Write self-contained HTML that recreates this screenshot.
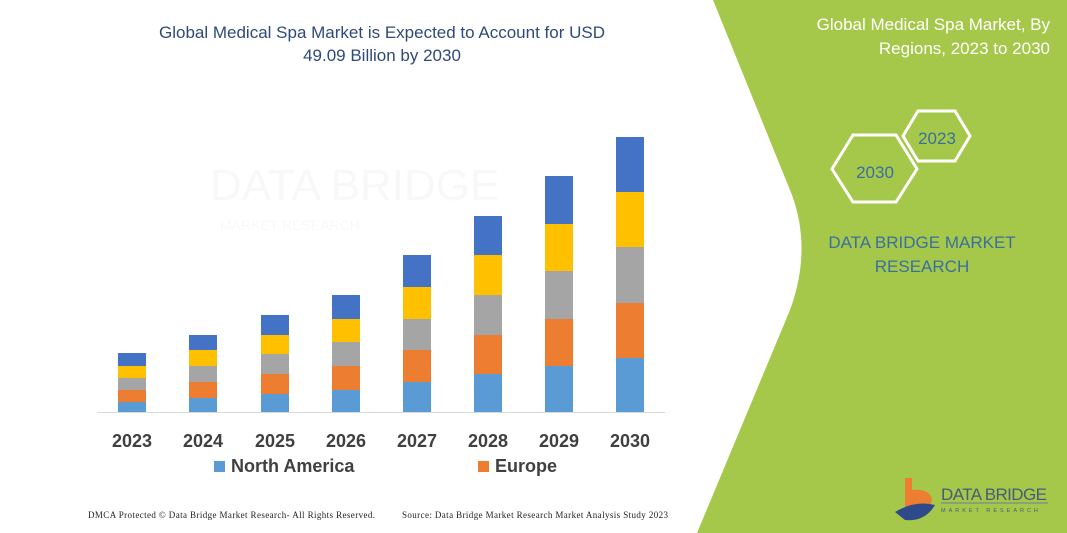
<!DOCTYPE html>
<html><head><meta charset="utf-8"><style>
body{margin:0;width:1067px;height:533px;overflow:hidden;background:#fff;font-family:"Liberation Sans",sans-serif;position:relative}
</style></head><body>
<svg width="1067" height="533" style="position:absolute;left:0;top:0">
<path d="M713,0 L1067,0 L1067,533 L697,533 L790,310 Q812,250 792,195 Z" fill="#a5c84a"/>
<text x="382" y="38" text-anchor="middle" font-size="17" fill="#2f4a7a">Global Medical Spa Market is Expected to Account for USD</text>
<text x="382" y="61" text-anchor="middle" font-size="17" fill="#2f4a7a">49.09 Billion by 2030</text>
<text x="1050" y="30" text-anchor="end" font-size="17" fill="#fff">Global Medical Spa Market, By</text>
<text x="1050" y="54" text-anchor="end" font-size="17" fill="#fff">Regions, 2023 to 2030</text>
<polygon points="832,169 853,135 896,135 917,169 896,202 853,202" fill="none" stroke="#fff" stroke-width="3"/>
<polygon points="903,136 918,111 955,111 970,136 955,161 918,161" fill="none" stroke="#fff" stroke-width="3"/>
<text x="875" y="178" text-anchor="middle" font-size="17" fill="#3a6fa0">2030</text>
<text x="937" y="144" text-anchor="middle" font-size="17" fill="#3a6fa0">2023</text>
<text x="922" y="248" text-anchor="middle" font-size="17" fill="#3a6fa0">DATA BRIDGE MARKET</text>
<text x="922" y="272" text-anchor="middle" font-size="17" fill="#3a6fa0">RESEARCH</text>
<g opacity="0.05" fill="#888"><text x="210" y="200" font-size="44">DATA BRIDGE</text><text x="220" y="230" font-size="14">MARKET RESEARCH</text></g>
<line x1="97" y1="412.5" x2="665" y2="412.5" stroke="#d9d9d9"/>
<g id="bars"></g>
<g font-size="18" font-weight="bold" fill="#404040" text-anchor="middle">
<text x="132" y="447">2023</text><text x="203" y="447">2024</text><text x="275" y="447">2025</text><text x="346" y="447">2026</text><text x="417" y="447">2027</text><text x="488" y="447">2028</text><text x="559" y="447">2029</text><text x="630" y="447">2030</text>
</g>
<rect x="214" y="461" width="11" height="11" fill="#5b9bd5"/>
<text x="231" y="472" font-size="18" font-weight="bold" fill="#404040">North America</text>
<rect x="478" y="461" width="11" height="11" fill="#ed7d31"/>
<text x="495" y="472" font-size="18" font-weight="bold" fill="#404040">Europe</text>
<text x="88" y="518" font-size="9" font-family="Liberation Serif" fill="#222" textLength="287">DMCA Protected © Data Bridge Market Research-  All Rights Reserved.</text>
<text x="402" y="518" font-size="9" font-family="Liberation Serif" fill="#222" textLength="266">Source: Data Bridge Market Research  Market Analysis Study 2023</text>
<path d="M905,478 L912,478 L912,490 Q930,488 932,500 Q930,512 912,512 L905,512 Z" fill="#ed7d31"/>
<path d="M895,512 Q915,500 935,505 Q925,522 905,520 Z" fill="#2f4a8a"/>
<text x="941" y="500" font-size="17" fill="#4a5a7a" textLength="106">DATA BRIDGE</text>
<line x1="941" y1="503" x2="1048" y2="503" stroke="#6a7aa0" stroke-width="1"/>
<text x="941" y="512" font-size="5.5" letter-spacing="3" fill="#4a5a7a">MARKET RESEARCH</text>
</svg>
<script>
var d=[[132,412,402,390,378,366,353],[203,412,398,382,366,350,335],[275,412,394,374,354,335,315],[346,412,390,366,342,319,295],[417,412,382,350,319,287,255],[488,412,374,335,295,255,216],[559,412,366,319,271,224,176],[630,412,358,303,247,192,137]];
var c=["#5b9bd5","#ed7d31","#a5a5a5","#ffc000","#4472c4"],s="";
d.forEach(function(b){for(var i=0;i<5;i++){s+='<rect x="'+(b[0]-14)+'" y="'+b[i+2]+'" width="28" height="'+(b[i+1]-b[i+2])+'" fill="'+c[i]+'"/>';}});
document.getElementById("bars").innerHTML=s;
</script>
</body></html>
